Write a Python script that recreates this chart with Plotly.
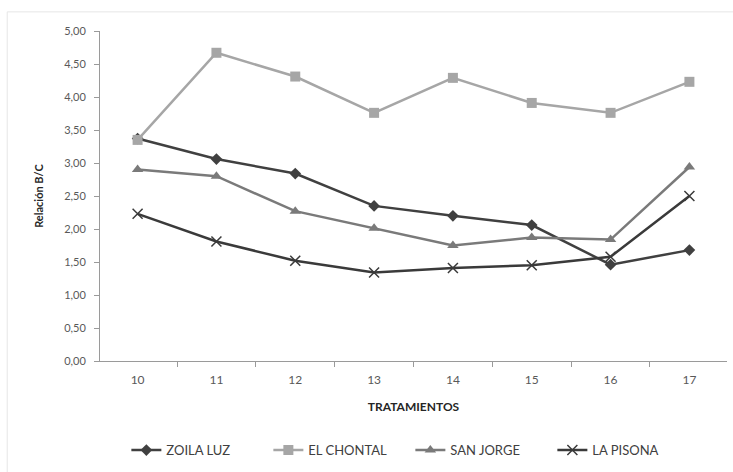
import plotly.graph_objects as go

categories = ["10", "11", "12", "13", "14", "15", "16", "17"]
zoila_luz = [3.37, 3.06, 2.84, 2.35, 2.20, 2.06, 1.46, 1.68]
el_chontal = [3.35, 4.67, 4.31, 3.76, 4.29, 3.91, 3.76, 4.23]
san_jorge = [2.90, 2.80, 2.27, 2.01, 1.75, 1.87, 1.84, 2.94]
la_pisona = [2.23, 1.81, 1.52, 1.34, 1.41, 1.45, 1.58, 2.50]
y_ticks = [0, 0.5, 1, 1.5, 2, 2.5, 3, 3.5, 4, 4.5, 5]
y_tick_labels = ["0,00", "0,50", "1,00", "1,50", "2,00", "2,50", "3,00", "3,50", "4,00", "4,50", "5,00"]

FONT = "Liberation Sans Narrow, Lato, Arial, sans-serif"

series = [
    ("ZOILA LUZ", zoila_luz, "#404040", dict(symbol="diamond", size=9)),
    ("EL CHONTAL", el_chontal, "#a6a6a6", dict(symbol="square", size=10)),
    ("SAN JORGE", san_jorge, "#7a7a7a", dict(symbol="triangle-up", size=10)),
    ("LA PISONA", la_pisona, "#3a3a3a", dict(symbol="x-thin", size=10, line=dict(width=1.5, color="#3a3a3a"))),
]

fig = go.Figure()
for name, vals, color, marker in series:
    m = dict(color=color, **marker)
    fig.add_trace(go.Scatter(
        x=categories, y=vals, name=name, mode="lines+markers",
        line=dict(color=color, width=2.5), marker=m,
    ))

fig.update_layout(
    width=733, height=472,
    margin=dict(l=100, r=6, t=31, b=111),
    paper_bgcolor="white", plot_bgcolor="white",
    font=dict(family=FONT, size=11, color="#595959"),
    showlegend=True,
    legend=dict(orientation="h", x=0.495, xanchor="center", y=-0.27, yanchor="middle",
                font=dict(size=13, color="#404040"), itemwidth=30, tracegroupgap=0,
                entrywidth=97, entrywidthmode="pixels"),
    xaxis=dict(
        type="category", showgrid=False, showline=True, linecolor="#9a9a9a", linewidth=1,
        ticks="outside", tickson="boundaries", ticklen=5, tickcolor="#9a9a9a",
        tickfont=dict(size=12, color="#595959"), ticklabelstandoff=8,
        title=dict(text="<b>TRATAMIENTOS</b>", font=dict(size=12, color="#262626"), standoff=16),
    ),
    yaxis=dict(
        range=[0, 5], tickvals=y_ticks, ticktext=y_tick_labels, showgrid=False,
        showline=True, linecolor="#9a9a9a", linewidth=1,
        ticks="outside", ticklen=5, tickcolor="#9a9a9a",
        tickfont=dict(size=11, color="#595959"), ticklabelstandoff=6,
        title=dict(text="<b>Relación B/C</b>", font=dict(size=11, color="#262626"), standoff=18),
    ),
    shapes=[dict(type="rect", xref="paper", yref="paper", x0=-0.148, x1=1.02, y0=-0.4, y1=1.058,
                 line=dict(color="#e6e6e6", width=1), layer="below")],
)

fig.write_html("out.html")
